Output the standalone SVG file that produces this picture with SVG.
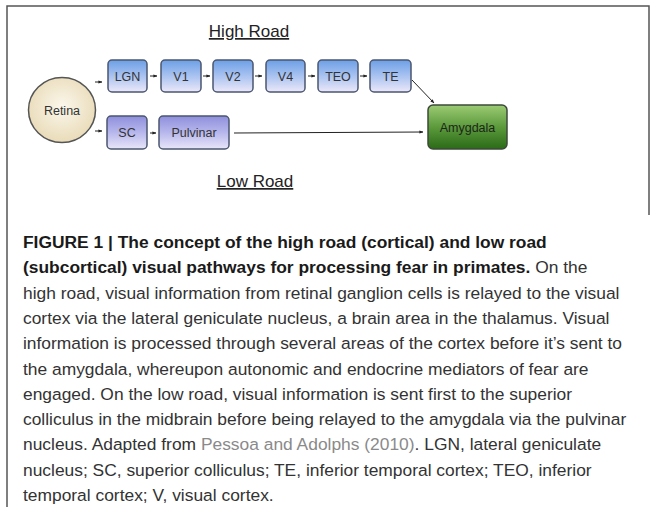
<svg xmlns="http://www.w3.org/2000/svg" width="652" height="507" viewBox="0 0 652 507">
<defs>
<linearGradient id="gBlue" x1="0" y1="0" x2="0" y2="1">
<stop offset="0" stop-color="#6c9fe6"/>
<stop offset="0.5" stop-color="#a9c3f0"/>
<stop offset="1" stop-color="#ece8f9"/>
</linearGradient>
<linearGradient id="gPurple" x1="0" y1="0" x2="0" y2="1">
<stop offset="0" stop-color="#8e8fdc"/>
<stop offset="0.5" stop-color="#b7b7ec"/>
<stop offset="1" stop-color="#e8e6f8"/>
</linearGradient>
<linearGradient id="gGreen" x1="0" y1="0" x2="0" y2="1">
<stop offset="0" stop-color="#9ccb74"/>
<stop offset="0.5" stop-color="#5c9a3c"/>
<stop offset="1" stop-color="#2b6a17"/>
</linearGradient>
<radialGradient id="gRetina" cx="0.5" cy="0.45" r="0.6">
<stop offset="0" stop-color="#fbf7ec"/>
<stop offset="1" stop-color="#e8d9b4"/>
</radialGradient>
<marker id="ah" viewBox="0 0 10 10" refX="9" refY="5" markerWidth="4" markerHeight="4" orient="auto" markerUnits="userSpaceOnUse">
<path d="M0,1 L10,5 L0,9 z" fill="#222"/>
</marker>
</defs>
<style>
.frame{stroke:#555;stroke-width:1.5;fill:none}
.box{stroke:#4b5670;stroke-width:1.5}
.lbl{font-family:"Liberation Sans",Arial,sans-serif;font-size:12.5px;fill:#333;text-anchor:middle}
.road{font-family:"Liberation Sans",Arial,sans-serif;font-size:17px;fill:#222;text-anchor:middle;text-decoration:underline}
.conn{stroke:#222;stroke-width:1;fill:none;marker-end:url(#ah)}
.cap{font-family:"Liberation Sans",Arial,sans-serif;font-size:17.4px;fill:#333}
.b{font-weight:bold;fill:#1a1a1a}
.link{fill:#8a8a8a}
</style>
<rect width="652" height="507" fill="#fff"/>
<g id="frame">
<path class="frame" d="M7,507 V6 H649 V215"/>
</g>
<text class="road" x="249" y="37">High Road</text>
<text class="road" x="255" y="187">Low Road</text>
<g id="connectors">
<line class="conn" x1="95" y1="82" x2="102" y2="82"/>
<line class="conn" x1="95" y1="131" x2="102" y2="131"/>
<line class="conn" x1="150" y1="76" x2="157" y2="76"/>
<line class="conn" x1="203" y1="76" x2="210" y2="76"/>
<line class="conn" x1="255" y1="76" x2="262" y2="76"/>
<line class="conn" x1="308" y1="76" x2="315" y2="76"/>
<line class="conn" x1="360" y1="76" x2="367" y2="76"/>
<line class="conn" x1="150" y1="133" x2="156" y2="133"/>
<line class="conn" x1="412" y1="80" x2="434" y2="103"/>
<line class="conn" x1="234" y1="133" x2="423" y2="132"/>
</g>
<g id="retina">
<ellipse cx="62" cy="110" rx="33.5" ry="32.5" fill="url(#gRetina)" stroke="#555" stroke-width="1.5"/>
<text class="lbl" x="62" y="114.5">Retina</text>
</g>
<g id="lgn">
<rect class="box" x="108" y="60" width="39" height="32" rx="4" fill="url(#gBlue)"/>
<text class="lbl" x="127.5" y="80.5">LGN</text>
</g>
<g id="v1">
<rect class="box" x="161" y="60" width="40" height="32" rx="4" fill="url(#gBlue)"/>
<text class="lbl" x="181" y="80.5">V1</text>
</g>
<g id="v2">
<rect class="box" x="213" y="60" width="40" height="32" rx="4" fill="url(#gBlue)"/>
<text class="lbl" x="233" y="80.5">V2</text>
</g>
<g id="v4">
<rect class="box" x="266" y="60" width="39" height="32" rx="4" fill="url(#gBlue)"/>
<text class="lbl" x="285.5" y="80.5">V4</text>
</g>
<g id="teo">
<rect class="box" x="318" y="60" width="40" height="32" rx="4" fill="url(#gBlue)"/>
<text class="lbl" x="338" y="80.5">TEO</text>
</g>
<g id="te">
<rect class="box" x="370" y="60" width="41" height="32" rx="4" fill="url(#gBlue)"/>
<text class="lbl" x="390.5" y="80.5">TE</text>
</g>
<g id="sc">
<rect class="box" x="107" y="116" width="40" height="33" rx="4" fill="url(#gPurple)"/>
<text class="lbl" x="127" y="137">SC</text>
</g>
<g id="pulvinar">
<rect class="box" x="159" y="116" width="70" height="33" rx="4" fill="url(#gPurple)"/>
<text class="lbl" x="194" y="137">Pulvinar</text>
</g>
<g id="amygdala">
<rect x="428" y="105" width="79" height="44" rx="5" fill="url(#gGreen)" stroke="#3d4a3a" stroke-width="1.5"/>
<text class="lbl" x="467.5" y="131.5" style="fill:#1c261a">Amygdala</text>
</g>
<g id="caption">
<text class="cap" x="23" y="248"><tspan class="b">FIGURE 1 | The concept of the high road (cortical) and low road</tspan></text>
<text class="cap" x="23" y="273.3"><tspan class="b">(subcortical) visual pathways for processing fear in primates.</tspan> On the</text>
<text class="cap" x="23" y="298.6">high road, visual information from retinal ganglion cells is relayed to the visual</text>
<text class="cap" x="23" y="323.9">cortex via the lateral geniculate nucleus, a brain area in the thalamus. Visual</text>
<text class="cap" x="23" y="349.2">information is processed through several areas of the cortex before it’s sent to</text>
<text class="cap" x="23" y="374.5">the amygdala, whereupon autonomic and endocrine mediators of fear are</text>
<text class="cap" x="23" y="399.8">engaged. On the low road, visual information is sent first to the superior</text>
<text class="cap" x="23" y="425.1">colliculus in the midbrain before being relayed to the amygdala via the pulvinar</text>
<text class="cap" x="23" y="450.4">nucleus. Adapted from <tspan class="link">Pessoa and Adolphs (2010)</tspan>. LGN, lateral geniculate</text>
<text class="cap" x="23" y="475.7">nucleus; SC, superior colliculus; TE, inferior temporal cortex; TEO, inferior</text>
<text class="cap" x="23" y="501">temporal cortex; V, visual cortex.</text>
</g>
</svg>
